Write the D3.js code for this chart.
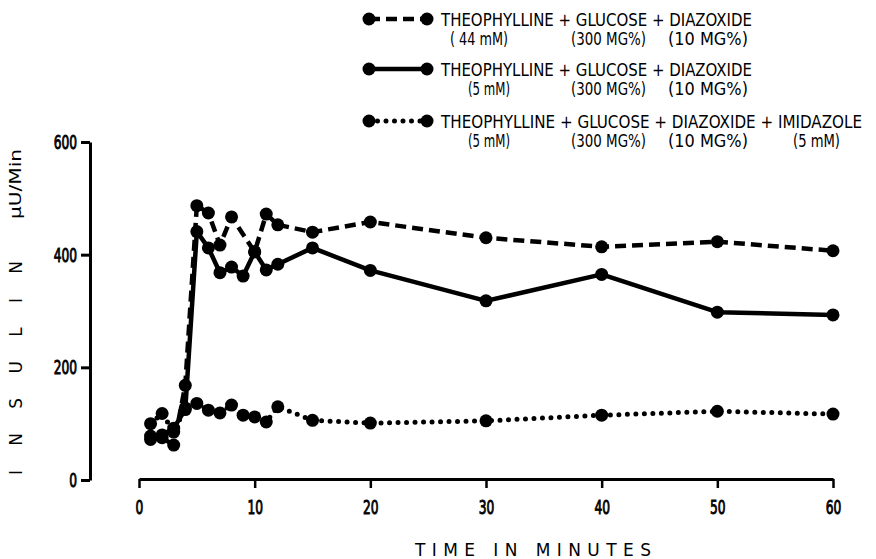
<!DOCTYPE html>
<html>
<head>
<meta charset="utf-8">
<script src="https://cdn.jsdelivr.net/npm/d3@7"></script>
<style>
  html, body { margin: 0; padding: 0; background: #fff; }
  svg { display: block; }
  .lbl { font-family: "Liberation Sans Narrow", "DejaVu Sans Condensed", sans-serif; fill: #000; }
</style>
</head>
<body>
<svg id="chart" width="876" height="559"></svg>
<script>
// Insulin release over time (µU/min) for three perfusion conditions
const timeTicks = [0, 10, 20, 30, 40, 50, 60];
const insulinTicks = [0, 200, 400, 600];

// Theophylline 44 mM + glucose + diazoxide (dashed)
const theo44Time  = [1, 2, 3, 4, 5, 6, 7, 8, 10, 11, 12, 15, 20, 30, 40, 50, 60];
const theo44Value = [72, 75, 62, 168, 487, 474, 417, 467, 405, 472, 453, 440, 458, 430, 414, 423, 407];

// Theophylline 5 mM + glucose + diazoxide (solid)
const theo5Time  = [1, 2, 3, 4, 5, 6, 7, 8, 9, 10, 11, 12, 15, 20, 30, 40, 50, 60];
const theo5Value = [78, 80, 92, 125, 441, 412, 368, 378, 362, 405, 373, 383, 412, 372, 318, 365, 298, 293];

// Theophylline 5 mM + glucose + diazoxide + imidazole (dotted)
const imidTime  = [1, 2, 3, 4, 5, 6, 7, 8, 9, 10, 11, 12, 15, 20, 30, 40, 50, 60];
const imidValue = [100, 118, 85, 128, 136, 124, 119, 133, 115, 112, 103, 130, 106, 101, 105, 115, 122, 117];

const legendLines = [
  { main: "THEOPHYLLINE + GLUCOSE + DIAZOXIDE", subs: ["( 44 mM)", "(300 MG%)", "(10 MG%)"] },
  { main: "THEOPHYLLINE + GLUCOSE + DIAZOXIDE", subs: ["(5 mM)", "(300 MG%)", "(10 MG%)"] },
  { main: "THEOPHYLLINE + GLUCOSE + DIAZOXIDE + IMIDAZOLE", subs: ["(5 mM)", "(300 MG%)", "(10 MG%)", "(5 mM)"] }
];

const series = [
  { t: theo44Time, v: theo44Value, dash: "11 6", cap: "butt", width: 4.5 },
  { t: theo5Time,  v: theo5Value,  dash: null,   cap: "butt", width: 4.5 },
  { t: imidTime,   v: imidValue,   dash: "0 8.5", cap: "round", width: 5 }
];

const svg = d3.select("#chart");
const x = d3.scaleLinear().domain([0, 60]).range([139, 833]);
const y = d3.scaleLinear().domain([0, 600]).range([480, 142]);

// Narrow, tall numerals for the tick labels (horizontal squeeze)
const squeeze = 0.68;
function styleTickText(sel) {
  sel.attr("class", "lbl")
    .style("font-family", "'DejaVu Sans Condensed', sans-serif")
    .style("font-size", "20px")
    .attr("stroke", "#000").attr("stroke-width", 0.9)
    .each(function () {
      const t = d3.select(this);
      const x0 = +t.attr("x") || 0;
      t.attr("x", x0 / squeeze).attr("transform", `scale(${squeeze},1)`);
    });
}

// Y axis
const yAxis = svg.append("g")
  .attr("transform", "translate(90,0)")
  .call(d3.axisLeft(y).tickValues(insulinTicks).tickSize(9).tickSizeOuter(0).tickPadding(4));
yAxis.select(".domain").attr("stroke", "#000").attr("stroke-width", 3);
yAxis.selectAll(".tick line").attr("stroke", "#000").attr("stroke-width", 3);
yAxis.selectAll(".tick text").call(styleTickText);

// X axis
const xAxis = svg.append("g")
  .attr("transform", "translate(0,479)")
  .call(d3.axisBottom(x).tickValues(timeTicks).tickSize(9).tickSizeOuter(0).tickPadding(12));
xAxis.select(".domain").attr("stroke", "#000").attr("stroke-width", 3);
xAxis.selectAll(".tick line").attr("stroke", "#000").attr("stroke-width", 2.5);
xAxis.selectAll(".tick text").call(styleTickText);

// Axis titles
svg.append("text")
  .attr("x", 533).attr("y", 556)
  .attr("text-anchor", "middle")
  .attr("textLength", 236).attr("lengthAdjust", "spacing")
  .style("font-family", "'DejaVu Sans', sans-serif")
  .style("font-size", "17px")
  .text("TIME IN MINUTES");

svg.append("text")
  .attr("transform", "translate(22,368) rotate(-90)")
  .attr("text-anchor", "middle")
  .attr("textLength", 214).attr("lengthAdjust", "spacing")
  .style("font-family", "'DejaVu Sans', sans-serif")
  .style("font-size", "17px")
  .text("INSULIN");

svg.append("text")
  .attr("transform", "translate(21,184) rotate(-90)")
  .attr("text-anchor", "middle")
  .attr("textLength", 70).attr("lengthAdjust", "spacingAndGlyphs")
  .style("font-family", "'DejaVu Sans Condensed', sans-serif")
  .style("font-size", "15px")
  .text("\u03bcU/Min");

// Series lines and markers
const line = d3.line().x(d => x(d[0])).y(d => y(d[1]));
series.forEach(s => {
  const pts = s.t.map((t, i) => [t, s.v[i]]);
  svg.append("path")
    .datum(pts)
    .attr("d", line)
    .attr("fill", "none")
    .attr("stroke", "#000")
    .attr("stroke-width", s.width)
    .attr("stroke-linecap", s.cap)
    .attr("stroke-linejoin", "round")
    .attr("stroke-dasharray", s.dash);
  svg.append("g").selectAll("circle")
    .data(pts).join("circle")
    .attr("cx", d => x(d[0]))
    .attr("cy", d => y(d[1]))
    .attr("r", 6.5)
    .attr("fill", "#000");
});

// Legend
const legRowY = [19, 69, 121];
const subX = [[450, 571, 668], [468, 571, 668], [468, 571, 668, 793]];
const subW = [[58, 75, 80], [42, 75, 80], [42, 75, 80, 47]];
const mainW = [311, 311, 421];
legendLines.forEach((row, i) => {
  const s = series[i];
  const ly = legRowY[i];
  svg.append("line")
    .attr("x1", 369).attr("x2", 427).attr("y1", ly).attr("y2", ly)
    .attr("stroke", "#000").attr("stroke-width", s.width)
    .attr("stroke-linecap", s.cap)
    .attr("stroke-dasharray", s.dash);
  [369, 427].forEach(cx => svg.append("circle")
    .attr("cx", cx).attr("cy", ly).attr("r", 6.5).attr("fill", "#000"));
  svg.append("text").attr("class", "lbl")
    .attr("x", 441).attr("y", ly + 7)
    .attr("textLength", mainW[i]).attr("lengthAdjust", "spacingAndGlyphs")
    .style("font-size", "17px")
    .text(row.main);
  row.subs.forEach((t, j) => {
    svg.append("text").attr("class", "lbl")
      .attr("x", subX[i][j]).attr("y", ly + 26)
      .attr("textLength", subW[i][j]).attr("lengthAdjust", "spacingAndGlyphs")
      .style("font-size", "17px")
      .text(t);
  });
});
</script>
</body>
</html>
